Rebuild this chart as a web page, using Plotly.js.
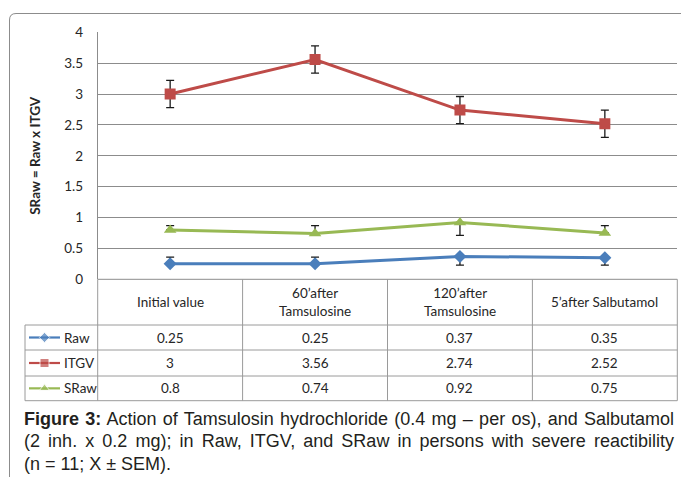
<!DOCTYPE html>
<html><head><meta charset="utf-8">
<script src="https://cdn.plot.ly/plotly-3.0.1.min.js"></script>
<style>html,body{margin:0;padding:0;background:#fff}#chart{width:681px;height:477px}</style>
</head><body><div id="chart"></div>
<script>
// ---------- data ----------
const categories = ["Initial value", "60’after<br>Tamsulosine", "120’after<br>Tamsulosine", "5’after Salbutamol"];
const seriesNames = ["Raw", "ITGV", "SRaw"];
const rawValues  = [0.25, 0.25, 0.37, 0.35];
const itgvValues = [3, 3.56, 2.74, 2.52];
const srawValues = [0.8, 0.74, 0.92, 0.75];
const rawErrPlus   = [0.11, 0.11, 0, 0];
const rawErrMinus  = [0, 0, 0.14, 0.12];
const itgvErr      = [0.22, 0.22, 0.22, 0.22];
const srawErrPlus  = [0.07, 0.13, 0, 0.12];
const srawErrMinus = [0, 0, 0.21, 0];
const yTickVals   = [0, 0.5, 1, 1.5, 2, 2.5, 3, 3.5, 4];
const yTickLabels = ["0", "0.5", "1", "1.5", "2", "2.5", "3", "3.5", "4"];
const yTitle = "SRaw = Raw x ITGV";
const captionLines = [
  "<b>Figure 3:</b> Action of Tamsulosin hydrochloride (0.4 mg – per os), and Salbutamol",
  "(2 inh. x 0.2 mg); in Raw, ITGV, and SRaw in persons with severe reactibility",
  "(n = 11; X ± SEM)."
];

// ---------- styles / geometry ----------
const W = 681, H = 477;
const plotL = 97.7, plotR = 677.3, plotT = 32.3, plotB = 279.3;
const tableL = 25, rowLines = [325, 350, 376, 400.7];
const colors = ["#4A7EBB", "#BE4B48", "#98B954"];
const symbols = ["diamond", "square", "triangle-up"];
const msizes = [10, 11, 11];
const gridColor = "#8c8c8c", tableColor = "#9a9a9a";
const txtFont = {family: "Lato, 'Open Sans', sans-serif", size: 13.5, color: "#262626"};
const capFont = {family: "'Liberation Sans', Arial, sans-serif", size: 18, color: "#231f20"};

const seriesValues = [rawValues, itgvValues, srawValues];
const errPlus  = [rawErrPlus, itgvErr, srawErrPlus];
const errMinus = [rawErrMinus, itgvErr, srawErrMinus];

const data = [];
seriesNames.forEach((name, i) => {
  data.push({
    type: "scatter", mode: "lines+markers", name: name,
    x: categories, y: seriesValues[i],
    line: {color: colors[i], width: 3},
    marker: {symbol: symbols[i], size: msizes[i], color: colors[i]},
    error_y: {type: "data", symmetric: false, array: errPlus[i], arrayminus: errMinus[i],
              color: "#1a1a1a", thickness: 1.3, width: 4},
    xaxis: "x", yaxis: "y", hoverinfo: "skip"
  });
});

// legend keys in the data table (pixel overlay axes)
const rowCenters = [];
for (let r = 0; r < 3; r++) rowCenters.push((rowLines[r] + rowLines[r + 1]) / 2);
seriesNames.forEach((name, i) => {
  data.push({
    type: "scatter", mode: "lines+markers", showlegend: false,
    x: [29, 44.5, 60], y: [rowCenters[i], rowCenters[i], rowCenters[i]],
    line: {color: colors[i], width: 2.2},
    marker: {symbol: symbols[i], size: [0, msizes[i] - 2, 0], color: colors[i]},
    xaxis: "x2", yaxis: "y2", hoverinfo: "skip"
  });
});

// ---------- shapes ----------
const shapes = [];
function line(x0, y0, x1, y1, c) {
  shapes.push({type: "line", xref: "x2", yref: "y2", x0, y0, x1, y1,
               line: {color: c || tableColor, width: 1}, layer: "below"});
}
line(plotL, plotB, plotR, plotB, gridColor);
rowLines.forEach(y => line(tableL, y, plotR, y));
line(tableL, rowLines[0], tableL, rowLines[3]);
line(plotL, plotB, plotL, rowLines[3]);
line(plotR, plotB, plotR, rowLines[3]);
for (let k = 0; k < categories.length - 1; k++) {
  shapes.push({type: "line", xref: "x", yref: "y2", x0: k + 0.5, x1: k + 0.5,
               y0: plotB, y1: rowLines[3], line: {color: tableColor, width: 1}});
}
// outer chart frame (rounded top-left corner)
shapes.push({type: "path", xref: "x2", yref: "y2",
  path: "M 9.5 490 L 9.5 20 Q 9.5 13.5 16 13.5 L 700 13.5",
  line: {color: "#8c8c8c", width: 1}});

// ---------- annotations ----------
const annotations = [];
categories.forEach((c, i) => {
  annotations.push({xref: "x", yref: "y2", x: c, y: (plotB + rowLines[0]) / 2,
    text: c, showarrow: false, font: txtFont, align: "center"});
  seriesValues.forEach((vals, r) => {
    annotations.push({xref: "x", yref: "y2", x: c, y: rowCenters[r],
      text: String(vals[i]), showarrow: false, font: txtFont});
  });
});
seriesNames.forEach((n, r) => {
  annotations.push({xref: "x2", yref: "y2", x: 62, y: rowCenters[r], xanchor: "left",
    text: n, showarrow: false, font: txtFont});
});
const capY = [418.5, 441.2, 463.9];
captionLines.forEach((t, i) => {
  annotations.push({xref: "x2", yref: "y2", x: 22, y: capY[i], xanchor: "left", yanchor: "middle",
    align: "left", text: t, showarrow: false, font: capFont});
});

const layout = {
  width: W, height: H, margin: {l: 0, r: 0, t: 0, b: 0},
  paper_bgcolor: "#ffffff", plot_bgcolor: "rgba(0,0,0,0)",
  showlegend: false, font: txtFont,
  xaxis: {domain: [plotL / W, plotR / W], type: "category", range: [-0.5, 3.5],
    showticklabels: false, showgrid: false, zeroline: false, showline: false, ticks: "", fixedrange: true},
  yaxis: {domain: [1 - plotB / H, 1 - plotT / H], range: [0, 4], tickvals: yTickVals, ticktext: yTickLabels,
    showgrid: true, gridcolor: gridColor, gridwidth: 1, zeroline: false,
    showline: true, linecolor: gridColor, linewidth: 1,
    ticks: "outside", ticklen: 11, tickcolor: "rgba(0,0,0,0)", tickfont: txtFont,
    automargin: false, fixedrange: true,
    title: {text: yTitle, standoff: 20, font: {family: "Lato, 'Open Sans', sans-serif", size: 13.5, color: "#262626", weight: "bold"}}},
  xaxis2: {domain: [0, 1], range: [0, W], visible: false, anchor: "y2", fixedrange: true},
  yaxis2: {domain: [0, 1], range: [H, 0], visible: false, anchor: "x2", fixedrange: true},
  shapes: shapes, annotations: annotations
};

Plotly.newPlot("chart", data, layout, {staticPlot: true, displayModeBar: false}).then(gd => {
  // justify the first two caption lines like the original figure caption
  const target = 650;
  gd.querySelectorAll(".annotation-text").forEach(t => {
    const raw = t.getAttribute("data-unformatted");
    const idx = captionLines.indexOf(raw);
    if (idx >= 0 && idx < captionLines.length - 1) {
      const w = t.getBBox().width;
      const n = (raw.replace(/<[^>]+>/g, "").match(/ /g) || []).length;
      const extra = (target - w) / n;
      if (extra > 0) t.style.wordSpacing = extra.toFixed(2) + "px";
    }
  });
});
</script>
</body></html>
